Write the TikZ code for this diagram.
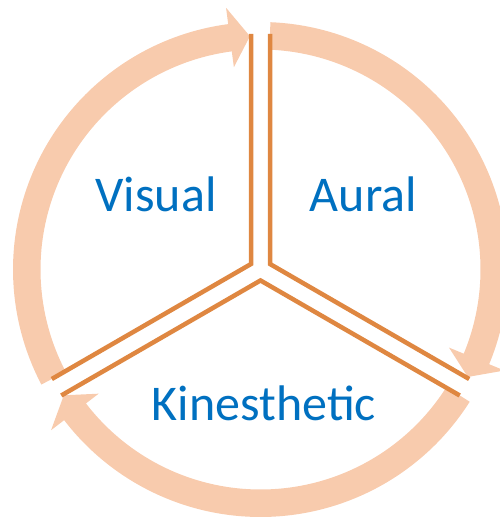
\documentclass[tikz,border=0pt]{standalone}
\usepackage{fontspec}
\setmainfont{Carlito}
\usetikzlibrary{calc}
\definecolor{peach}{RGB}{248,203,173}
\definecolor{divorange}{RGB}{223,135,65}
\definecolor{txtblue}{RGB}{0,112,192}
\begin{document}
\begin{tikzpicture}[x=1pt,y=1pt,
  ringarc/.style={fill=peach},
  divline/.style={draw=divorange,line width=4.5pt,line join=miter},
  lbl/.style={text=txtblue,font=\fontsize{50}{58}\selectfont,anchor=base,inner sep=0pt}]
\useasboundingbox (0,0) rectangle (500,519);
\coordinate (C) at (260.5,249.5);
\def\Ro{247.5}\def\Ri{220}\def\Rm{233.5}\def\Hout{264}\def\Hin{204}
% Visual arc
\fill[ringarc] ($(C)+(207.7:\Ro)$) arc[start angle=207.7,end angle=97.5,radius=\Ro]
  -- ($(C)+(97.5:\Hout)$) -- ($(C)+(92.6:\Rm)$) -- ($(C)+(97.5:\Hin)$)
  -- ($(C)+(97.5:\Ri)$) arc[start angle=97.5,end angle=207.7,radius=\Ri] -- cycle;
% Aural arc
\fill[ringarc] ($(C)+(87.7:\Ro)$) arc[start angle=87.7,end angle=-22.5,radius=\Ro]
  -- ($(C)+(-22.5:\Hout)$) -- ($(C)+(-27.4:\Rm)$) -- ($(C)+(-22.5:\Hin)$)
  -- ($(C)+(-22.5:\Ri)$) arc[start angle=-22.5,end angle=87.7,radius=\Ri] -- cycle;
% Kinesthetic arc
\fill[ringarc] ($(C)+(-32.3:\Ro)$) arc[start angle=-32.3,end angle=-142.5,radius=\Ro]
  -- ($(C)+(-142.5:\Hout)$) -- ($(C)+(-147.4:\Rm)$) -- ($(C)+(-142.5:\Hin)$)
  -- ($(C)+(-142.5:\Ri)$) arc[start angle=-142.5,end angle=-32.3,radius=\Ri] -- cycle;
% divider points
\def\d{9.5}\def\L{235.5}\def\K{10.97}
\coordinate (P1) at ($(C)+(90:\L)+(180:\d)$);
\coordinate (KV) at ($(C)+(150:\K)$);
\coordinate (P2) at ($(C)+(210:\L)+(120:\d)$);
\coordinate (Q1) at ($(C)+(90:\L)+(0:\d)$);
\coordinate (KA) at ($(C)+(30:\K)$);
\coordinate (Q2) at ($(C)+(330:\L)+(60:\d)$);
\coordinate (R1) at ($(C)+(210:\L)+(300:\d)$);
\coordinate (KK) at ($(C)+(270:\K)$);
\coordinate (R2) at ($(C)+(330:\L)+(240:\d)$);
\draw[divline] (P1) -- (KV) -- (P2);
\draw[divline] (Q1) -- (KA) -- (Q2);
\draw[divline] (R1) -- (KK) -- (R2);
% labels
\node[lbl] (visual) at (156,307) {Visual};
\node[lbl] (aural) at (363.5,307) {Aural};
\node[lbl] (kin) at (264,98) {Kinesthetic};
\end{tikzpicture}
\end{document}
